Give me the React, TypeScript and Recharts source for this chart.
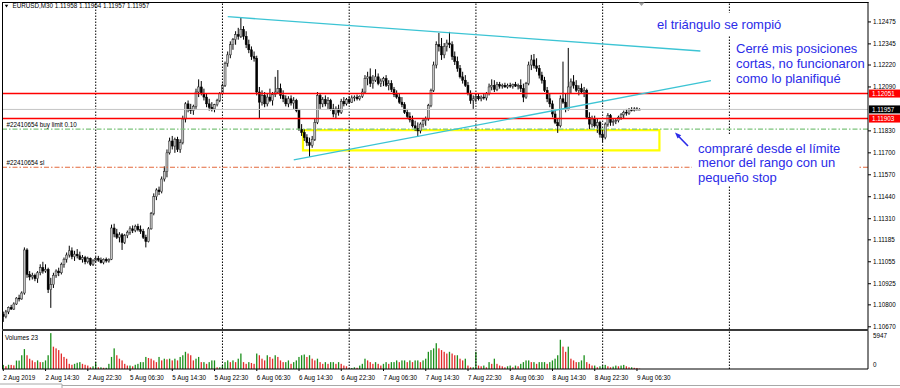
import React from 'react';
import { ComposedChart, Bar, XAxis, YAxis, ReferenceLine, ReferenceArea } from 'recharts';

const FONT = '"Liberation Sans", Arial, sans-serif';

// Prices are stored in points (0.00001) above BASE.
const BASE = 1.1;
// M30 bar index counted from 2 Aug 2019 00:00 (13 = 06:30)
const FIRST_BAR = 13;
// empty slots on the right (chart shift)
const LAST_SLOT = 340;

const opens = [
  // 2 Aug
  745, 730, 758, 785, 775, 805, 840, 835, 870, 1125, 980, 965, 975, 955, 990, 1020, 1000, 1010, 890, 920, 975, 1000, 990, 1040, 1070, 1095, 1120, 1085, 1100, 1090, 1070, 1080, 1055, 1075, 1040,
  // 5 Aug
  1060, 1075, 1065, 1050, 1070, 1060, 1070, 1255, 1220, 1200, 1215, 1170, 1210, 1230, 1250, 1240, 1265, 1245, 1235, 1200, 1175, 1250, 1340, 1440, 1480, 1470, 1545, 1590, 1700, 1770, 1740, 1780, 1720, 1760, 1900, 1990, 1960, 1950, 1975, 2060, 2090, 2050, 2030, 1990, 1970, 1960, 1985, 2010,
  // 6 Aug
  2050, 2100, 2230, 2280, 2340, 2370, 2400, 2390, 2430, 2390, 2340, 2310, 2270, 2260, 2060, 2000, 2040, 1990, 2030, 2010, 2045, 2060, 2080, 2040, 2020, 1990, 2020, 1995, 2010, 1950, 1840, 1820, 1790, 1760, 1745, 1780, 1880, 2040, 1990, 2015, 1990, 2010, 1960, 1930, 1960, 1940, 2005, 1990,
  // 7 Aug
  2015, 2000, 2025, 2030, 2020, 2035, 2060, 2140, 2150, 2110, 2130, 2150, 2110, 2125, 2140, 2100, 2110, 2075, 2045, 2030, 2000, 1985, 1940, 1915, 1895, 1860, 1845, 1830, 1870, 1890, 1900, 1980, 2070, 2220, 2340, 2330, 2280, 2330, 2350, 2340, 2270, 2240, 2200, 2150, 2130, 2100, 2050, 2010,
  // 8 Aug
  2020, 2035, 2020, 2030, 2025, 2050, 2090, 2100, 2075, 2105, 2095, 2100, 2090, 2100, 2095, 2105, 2095, 2100, 2080, 2030, 2110, 2220, 2250, 2215, 2200, 2160, 2130, 2070, 2020, 1990, 1930, 1880, 1860, 2020, 2000, 1960, 2090, 2120, 2100, 2070, 2080, 2060, 2070, 1910, 1870, 1900, 1860, 1880,
  // 9 Aug
  1810, 1790, 1870, 1920, 1880, 1885, 1890, 1910, 1925, 1940, 1935, 1955, 1950, 1960, 1958,
];

const highs = [
  760, 770, 790, 800, 815, 845, 860, 880, 1140, 1135, 1000, 990, 985, 1000, 1040, 1055, 1040, 1020, 960, 990, 1010, 1020, 1050, 1080, 1110, 1150, 1140, 1120, 1130, 1115, 1095, 1090, 1085, 1080, 1070,
  1085, 1090, 1080, 1075, 1080, 1075, 1275, 1280, 1250, 1230, 1225, 1220, 1240, 1265, 1270, 1275, 1280, 1270, 1250, 1215, 1260, 1350, 1460, 1490, 1500, 1560, 1620, 1720, 1790, 1800, 1790, 1795, 1780, 1920, 2000, 2010, 1990, 1985, 2080, 2135, 2125, 2080, 2050, 2020, 2000, 1990, 2020, 2060,
  2110, 2240, 2300, 2360, 2380, 2420, 2440, 2504, 2450, 2420, 2370, 2330, 2300, 2275, 2090, 2070, 2060, 2050, 2080, 2060, 2150, 2190, 2110, 2070, 2040, 2035, 2040, 2030, 2020, 1960, 1870, 1840, 1810, 1790, 1800, 1900, 2060, 2050, 2030, 2040, 2030, 2020, 1990, 1975, 1985, 2020, 2030, 2025,
  2035, 2040, 2040, 2045, 2040, 2080, 2160, 2180, 2200, 2160, 2195, 2170, 2140, 2150, 2160, 2130, 2130, 2090, 2070, 2050, 2030, 2000, 1960, 1940, 1920, 1890, 1880, 1880, 1900, 1915, 1990, 2080, 2240, 2360, 2410, 2380, 2350, 2370, 2416, 2360, 2300, 2270, 2220, 2180, 2160, 2120, 2070, 2040,
  2050, 2050, 2040, 2050, 2060, 2110, 2135, 2130, 2120, 2120, 2110, 2115, 2110, 2115, 2110, 2120, 2110, 2135, 2110, 2120, 2240, 2280, 2285, 2260, 2220, 2180, 2150, 2090, 2050, 2010, 1960, 1900, 2040, 2240, 2050, 2321, 2140, 2160, 2130, 2100, 2110, 2090, 2080, 1940, 1920, 1920, 1900, 1890,
  1830, 1880, 1935, 1930, 1900, 1905, 1920, 1935, 1950, 1960, 1965, 1970, 1970, 1970, 1964,
];

const lows = [
  699, 720, 745, 770, 770, 800, 820, 830, 860, 960, 945, 950, 940, 930, 975, 985, 990, 870, 782, 900, 960, 970, 980, 1020, 1050, 1080, 1070, 1060, 1075, 1065, 1050, 1040, 1045, 1030, 1030,
  1050, 1055, 1045, 1040, 1050, 1050, 1065, 1200, 1190, 1170, 1125, 1160, 1195, 1215, 1225, 1230, 1235, 1220, 1190, 1140, 1170, 1245, 1330, 1420, 1450, 1460, 1530, 1555, 1690, 1720, 1700, 1705, 1700, 1750, 1880, 1940, 1930, 1925, 1960, 2030, 2040, 2010, 1970, 1950, 1945, 1940, 1975, 2000,
  2040, 2090, 2210, 2260, 2310, 2340, 2370, 2380, 2370, 2320, 2290, 2250, 2240, 2040, 1906, 1980, 1970, 1975, 2000, 1980, 2030, 2050, 2020, 2000, 1975, 1970, 1980, 1960, 1940, 1830, 1800, 1770, 1740, 1676, 1730, 1770, 1870, 1960, 1970, 1975, 1960, 1950, 1910, 1905, 1920, 1930, 1975, 1980,
  1990, 1995, 2005, 2010, 2010, 2025, 2050, 2100, 2090, 2080, 2120, 2100, 2090, 2095, 2090, 2070, 2060, 2030, 2020, 1990, 1970, 1930, 1900, 1880, 1850, 1830, 1794, 1815, 1850, 1860, 1890, 1970, 2060, 2200, 2300, 2250, 2260, 2300, 2320, 2250, 2220, 2180, 2140, 2110, 2090, 2040, 1990, 1960,
  2000, 2010, 2005, 2015, 2010, 2040, 2070, 2060, 2065, 2080, 2080, 2085, 2080, 2085, 2080, 2090, 2075, 2060, 2000, 2020, 2100, 2190, 2200, 2180, 2140, 2110, 2060, 2000, 1970, 1910, 1870, 1818, 1850, 1990, 1940, 1950, 2050, 2080, 2060, 2040, 2050, 2030, 1900, 1840, 1850, 1850, 1818, 1790,
  1764, 1780, 1855, 1860, 1860, 1870, 1880, 1895, 1905, 1920, 1925, 1945, 1945, 1950, 1957,
];

const closes = [
  730, 758, 785, 775, 805, 840, 835, 870, 1125, 980, 965, 975, 955, 990, 1020, 1000, 1010, 890, 920, 975, 1000, 990, 1040, 1070, 1095, 1120, 1085, 1100, 1090, 1070, 1080, 1055, 1075, 1040, 1060,
  1075, 1065, 1050, 1070, 1060, 1070, 1255, 1220, 1200, 1215, 1170, 1210, 1230, 1250, 1240, 1265, 1245, 1235, 1200, 1175, 1250, 1340, 1440, 1480, 1470, 1545, 1590, 1700, 1770, 1740, 1780, 1720, 1760, 1900, 1990, 1960, 1950, 1975, 2060, 2090, 2050, 2030, 1990, 1970, 1960, 1985, 2010, 2050,
  2100, 2230, 2280, 2340, 2370, 2400, 2390, 2430, 2390, 2340, 2310, 2270, 2260, 2060, 2000, 2040, 1990, 2030, 2010, 2045, 2060, 2080, 2040, 2020, 1990, 2020, 1995, 2010, 1950, 1840, 1820, 1790, 1760, 1745, 1780, 1880, 2040, 1990, 2015, 1990, 2010, 1960, 1930, 1960, 1940, 2005, 1990, 2015,
  2000, 2025, 2030, 2020, 2035, 2060, 2140, 2150, 2110, 2130, 2150, 2110, 2125, 2140, 2100, 2110, 2075, 2045, 2030, 2000, 1985, 1940, 1915, 1895, 1860, 1845, 1830, 1870, 1890, 1900, 1980, 2070, 2220, 2340, 2330, 2280, 2330, 2350, 2340, 2270, 2240, 2200, 2150, 2130, 2100, 2050, 2010, 2020,
  2035, 2020, 2030, 2025, 2050, 2090, 2100, 2075, 2105, 2095, 2100, 2090, 2100, 2095, 2105, 2095, 2100, 2080, 2030, 2110, 2220, 2250, 2215, 2200, 2160, 2130, 2070, 2020, 1990, 1930, 1880, 1860, 2020, 2000, 1960, 2090, 2120, 2100, 2070, 2080, 2060, 2070, 1910, 1870, 1900, 1860, 1880, 1810,
  1790, 1870, 1920, 1880, 1885, 1890, 1910, 1925, 1940, 1935, 1955, 1950, 1960, 1958, 1957,
];

const volumes = [
  680, 450, 700, 680, 600, 1400, 1400, 2280, 3300, 2280, 1700, 1425, 1140, 1425, 1140, 1140, 1425, 2280, 5947, 3700, 3420, 3135, 2565, 2000, 1700, 855, 700, 855, 1030, 1140, 855, 700, 570, 285, 450,
  1140, 285, 285, 200, 200, 855, 2000, 3420, 2280, 1710, 1425, 855, 570, 570, 450, 700, 855, 1140, 1140, 2000, 1820, 1710, 1425, 1140, 2000, 1425, 1710, 1600, 1710, 1425, 1710, 1425, 2000, 2280, 2850, 2565, 2280, 1425, 1710, 2000, 1140, 1140, 855, 1140, 1425, 1425, 285, 285,
  570, 1140, 1425, 1140, 1425, 1140, 1710, 2565, 1140, 855, 1140, 1000, 855, 2565, 2280, 1710, 1425, 2280, 1995, 1710, 2280, 2000, 1425, 1140, 1140, 1425, 855, 1140, 1425, 2000, 2280, 2400, 1995, 2280, 1710, 1425, 1710, 1140, 855, 1140, 855, 1140, 1140, 855, 1140, 855, 570, 450,
  170, 170, 285, 200, 570, 855, 1710, 1425, 1140, 855, 1140, 855, 570, 855, 1140, 855, 1140, 1140, 1425, 1140, 1425, 1425, 1140, 1425, 1140, 1425, 1425, 1140, 1425, 1710, 2850, 3135, 3420, 4275, 3420, 3135, 2850, 2565, 2850, 2565, 2280, 2280, 1710, 1425, 1710, 570, 285, 285,
  2850, 570, 450, 570, 285, 1140, 855, 1710, 855, 570, 450, 285, 450, 570, 285, 570, 450, 855, 1140, 1425, 1425, 1140, 1140, 855, 1140, 1140, 1140, 855, 1140, 1425, 1710, 2280, 4845, 3705, 2850, 3705, 1710, 1425, 1140, 1140, 1425, 2280, 1140, 855, 570, 570, 285, 450,
  570, 680, 450, 285, 400, 570, 450, 570, 680, 450, 285, 285, 200, 170, 60,
];

const timeTickBars = [13, 29, 45, 61, 77, 93, 109, 125, 141, 157, 173, 189, 205, 221, 237, 253];
const timeTickLabels = [
  '2 Aug 2019', '2 Aug 14:30', '2 Aug 22:30', '5 Aug 06:30', '5 Aug 14:30', '5 Aug 22:30', '6 Aug 06:30', '6 Aug 14:30',
  '6 Aug 22:30', '7 Aug 06:30', '7 Aug 14:30', '7 Aug 22:30', '8 Aug 06:30', '8 Aug 14:30', '8 Aug 22:30', '9 Aug 06:30',
];
const daySeparators = [48, 96, 144, 192, 240, 288];
const priceTicks = [1.12475, 1.12345, 1.1222, 1.1209, 1.1183, 1.117, 1.1157, 1.1144, 1.1131, 1.11185, 1.11055, 1.10925, 1.108, 1.1067];
const priceDomain: [number, number] = [1.10657, 1.12593];
const volumeTicks = [0, 5947];
const volumeDomain: [number, number] = [0, 6300];

const resistance = 1.12051;
const support = 1.11903;
const buyLimit = 1.1184;
const stopLoss = 1.11615;
const triangleUpper = [{ x: 98, y: 1.12506 }, { x: 277, y: 1.12303 }];
const triangleLower = [{ x: 123, y: 1.11658 }, { x: 281, y: 1.12127 }];
const buyZone = { x1: 127, x2: 261, y1: 1.11714, y2: 1.11835 };

const toPrice = (p: number) => Math.round((BASE + p / 100000) * 100000) / 100000;
const fmt = (v: number) => v.toFixed(5);

type Row = { i: number; o?: number; h?: number; l?: number; c?: number; range: [number, number] | null; v: number | null; up?: boolean };
const rows: Row[] = [];
for (let i = FIRST_BAR; i <= LAST_SLOT; i++) {
  const k = i - FIRST_BAR;
  if (k < closes.length) {
    const o = toPrice(opens[k]);
    const h = toPrice(highs[k]);
    const l = toPrice(lows[k]);
    const c = toPrice(closes[k]);
    rows.push({ i, o, h, l, c, range: [l, h], v: volumes[k], up: k === 0 || volumes[k] >= volumes[k - 1] });
  } else {
    rows.push({ i, range: null, v: null });
  }
}
const last = closes.length - 1;
const bid = toPrice(closes[last]);
const title = `EURUSD,M30  ${fmt(toPrice(opens[last]))} ${fmt(toPrice(highs[last]))} ${fmt(toPrice(lows[last]))} ${fmt(toPrice(closes[last]))}`;

const Candle = (props: any) => {
  const { x, y, width, height, payload } = props;
  if (!payload || payload.o == null) return null;
  const { o, h, l, c } = payload;
  const top = Math.min(y, y + height);
  const bot = Math.max(y, y + height);
  const span = h - l || 1e-9;
  const py = (p: number) => top + ((h - p) / span) * (bot - top);
  const cx = x + width / 2;
  const yo = py(o);
  const yc = py(c);
  const bodyTop = Math.min(yo, yc);
  const bodyH = Math.max(Math.abs(yc - yo), 0.8);
  const bull = c >= o;
  return (
    <g>
      <line x1={cx} x2={cx} y1={top} y2={bot} stroke="#000" strokeWidth={1} />
      <rect x={cx - 1} y={bodyTop} width={2} height={bodyH} fill={bull ? '#c4c4c4' : '#000'} stroke={bull ? '#222' : '#000'} strokeWidth={0.5} />
    </g>
  );
};

const VolBar = (props: any) => {
  const { x, y, width, height, payload } = props;
  if (!payload || payload.v == null) return null;
  const cx = x + width / 2;
  return <rect x={cx - 0.65} y={Math.min(y, y + height)} width={1.3} height={Math.abs(height)} fill={payload.up ? '#1b8f1b' : '#e22a2a'} />;
};

const PriceTick = (props: any) => {
  const { x, y, payload } = props;
  return (
    <text x={x} y={y} dy={2.3} fontSize={6.3} fontFamily={FONT} fill="#000" textAnchor="start">
      {fmt(payload.value)}
    </text>
  );
};

const VolTick = (props: any) => {
  const { x, y, payload } = props;
  return (
    <text x={x} y={y} dy={payload.value === 0 ? -1.7 : 5.2} fontSize={6.3} fontFamily={FONT} fill="#000" textAnchor="start">
      {String(payload.value)}
    </text>
  );
};

const TimeTick = (props: any) => {
  const { x, y, payload } = props;
  const idx = timeTickBars.indexOf(payload.value);
  return (
    <text x={x} y={y} dy={7.5} fontSize={6.3} fontFamily={FONT} fill="#000" textAnchor="start">
      {idx >= 0 ? timeTickLabels[idx] : ''}
    </text>
  );
};

const PriceTag = (props: any) => {
  const { viewBox, bg, text } = props;
  if (!viewBox) return null;
  const { x, y, width } = viewBox;
  return (
    <g>
      <rect x={x + width + 1} y={y - 4} width={31} height={8} fill={bg} />
      <text x={x + width + 4} y={y + 2.3} fontSize={6.3} fontFamily={FONT} fill="#fff">
        {text}
      </text>
    </g>
  );
};

const BLUE = '#2b2be8';

export default function App() {
  return (
    <div style={{ position: 'fixed', left: 0, top: 0, width: 900, height: 388, background: '#fff', overflow: 'hidden' }}>
      <div style={{ position: 'absolute', left: 0, top: 0 }}>
        <ComposedChart width={900} height={331} data={rows} margin={{ top: 2, right: 0, left: 2, bottom: 2 }}>
          <XAxis dataKey="i" type="category" hide />
          <YAxis
            orientation="right"
            width={32}
            domain={priceDomain}
            allowDataOverflow
            ticks={priceTicks}
            interval={0}
            tick={PriceTick}
            tickSize={3}
            tickMargin={2}
            tickLine={{ stroke: '#000' }}
            axisLine={{ stroke: '#000' }}
          />
          {daySeparators.map((d) => (
            <ReferenceLine key={d} x={d} stroke="#000" strokeDasharray="1.5 1.5" strokeWidth={1} />
          ))}
          <ReferenceLine y={bid} stroke="#c4c4c4" strokeWidth={1} label={<PriceTag bg="#000" text={fmt(bid)} />} />
          <ReferenceLine y={resistance} stroke="#f00" strokeWidth={1.6} label={<PriceTag bg="#f00" text={fmt(resistance)} />} />
          <ReferenceLine y={support} stroke="#f00" strokeWidth={1.6} label={<PriceTag bg="#f00" text={fmt(support)} />} />
          <ReferenceLine y={buyLimit} stroke="#7cc47c" strokeWidth={1.2} strokeDasharray="5 2 1.5 2" />
          <ReferenceLine y={stopLoss} stroke="#e4693c" strokeWidth={1.1} strokeDasharray="5 2 1.5 2" />
          <ReferenceArea x1={buyZone.x1} x2={buyZone.x2} y1={buyZone.y1} y2={buyZone.y2} fill="none" fillOpacity={0} stroke="#ffff00" strokeWidth={2.2} />
          <Bar dataKey="range" shape={Candle} isAnimationActive={false} />
          <ReferenceLine segment={triangleUpper} stroke="#3cc4d4" strokeWidth={1.3} />
          <ReferenceLine segment={triangleLower} stroke="#3cc4d4" strokeWidth={1.3} />
        </ComposedChart>
      </div>
      <div style={{ position: 'absolute', left: 0, top: 331 }}>
        <ComposedChart width={900} height={57} data={rows} margin={{ top: 0, right: 0, left: 2, bottom: 0 }}>
          <XAxis
            dataKey="i"
            type="category"
            height={19}
            ticks={timeTickBars}
            interval={0}
            tick={TimeTick}
            tickSize={2}
            tickMargin={1}
            tickLine={{ stroke: '#000' }}
            axisLine={{ stroke: '#000' }}
          />
          <YAxis
            orientation="right"
            width={32}
            domain={volumeDomain}
            allowDataOverflow
            ticks={volumeTicks}
            interval={0}
            tick={VolTick}
            tickSize={3}
            tickMargin={2}
            tickLine={false}
            axisLine={{ stroke: '#000' }}
          />
          {daySeparators.map((d) => (
            <ReferenceLine key={d} x={d} stroke="#000" strokeDasharray="1.5 1.5" strokeWidth={1} />
          ))}
          <Bar dataKey="v" shape={VolBar} isAnimationActive={false} />
        </ComposedChart>
      </div>
      <svg width={900} height={388} style={{ position: 'absolute', left: 0, top: 0, pointerEvents: 'none' }}>
        {/* frame */}
        <line x1={2.5} y1={2} x2={2.5} y2={369} stroke="#000" strokeWidth={1} />
        <line x1={2} y1={2.5} x2={868.5} y2={2.5} stroke="#000" strokeWidth={1} />
        <rect x={2} y={329} width={866.5} height={2} fill="#3a3a3a" />
        {/* bottom tab strip */}
        <line x1={62} y1={385.5} x2={900} y2={385.5} stroke="#a8a8a8" strokeWidth={1} />
        <line x1={0} y1={384} x2={62} y2={384} stroke="#a8a8a8" strokeWidth={1} />
        <line x1={62} y1={384} x2={62} y2={388} stroke="#a8a8a8" strokeWidth={1} />
        {/* title */}
        <polygon points="4.8,4.8 8.2,4.8 6.5,7.4" fill="#000" />
        <text x={12.5} y={8.4} fontSize={6.3} fontFamily={FONT} fill="#000">{title}</text>
        <polygon points="638.5,2.6 644.5,2.6 641.5,6" fill="#a0a0a0" />
        {/* order labels */}
        <text x={6.5} y={126.8} fontSize={6.3} fontFamily={FONT} fill="#000">#22410654 buy limit 0.10</text>
        <text x={6.5} y={165} fontSize={6.3} fontFamily={FONT} fill="#000">#22410654 sl</text>
        <text x={5} y={340} fontSize={6.3} fontFamily={FONT} fill="#000">Volumes 23</text>
        {/* annotations */}
        <rect x={652} y={13} width={134} height={22} fill="#fff" />
        <text x={657} y={28.5} fontSize={13} fontFamily={FONT} fill={BLUE}>el triángulo se rompió</text>
        <text x={736} y={53.3} fontSize={13} fontFamily={FONT} fill={BLUE}>Cerré mis posiciones</text>
        <text x={736} y={68.3} fontSize={13} fontFamily={FONT} fill={BLUE}>cortas, no funcionaron</text>
        <text x={736} y={83.3} fontSize={13} fontFamily={FONT} fill={BLUE}>como lo planifiqué</text>
        <rect x={692} y={135} width={166} height={51} fill="#fff" />
        <text x={698} y={152.7} fontSize={13} fontFamily={FONT} fill={BLUE}>compraré desde el límite</text>
        <text x={698} y={167.2} fontSize={13} fontFamily={FONT} fill={BLUE}>menor del rango con un</text>
        <text x={698} y={181.7} fontSize={13} fontFamily={FONT} fill={BLUE}>pequeño stop</text>
        <line x1={688} y1={146} x2={678.5} y2={136.2} stroke={BLUE} strokeWidth={1.6} />
        <polygon points="675,132.5 681.2,135.2 677.6,138.6" fill={BLUE} />
      </svg>
    </div>
  );
}
